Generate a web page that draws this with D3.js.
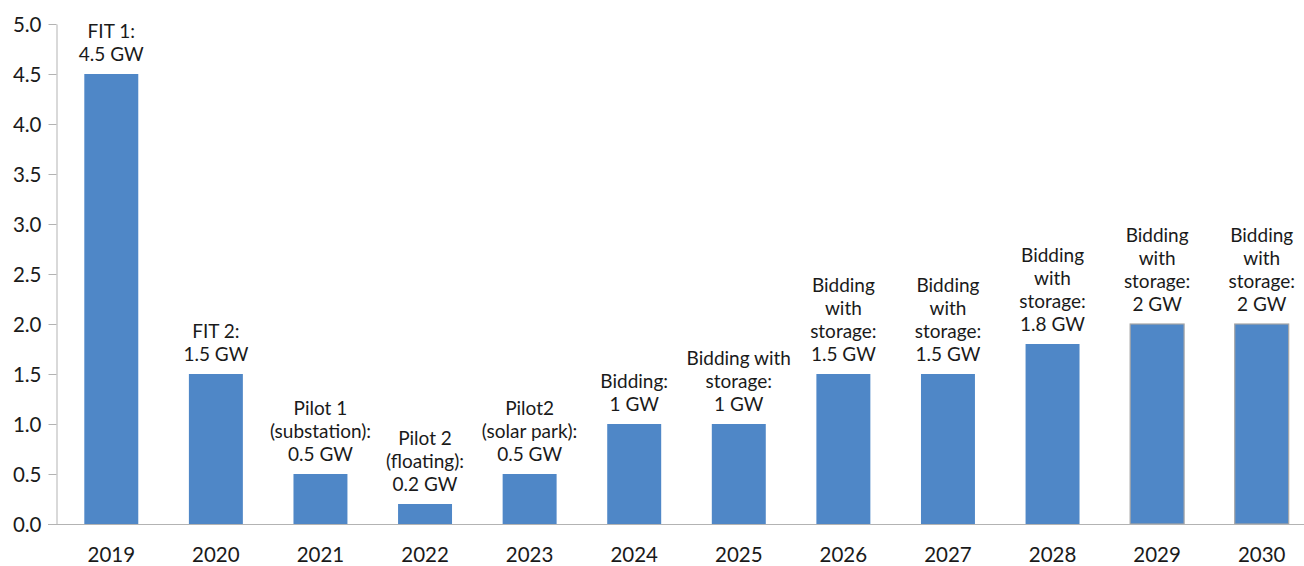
<!DOCTYPE html>
<html><head><meta charset="utf-8">
<script src="https://cdn.jsdelivr.net/npm/d3@7"></script>
<style>
html,body{margin:0;padding:0;background:#fff;}
svg text{font-family:Lato,"Noto Sans",sans-serif;fill:#1a1a1a;}
</style></head>
<body><svg id="c" width="1304" height="566"></svg>
<script>
const categories = ["2019","2020","2021","2022","2023","2024","2025","2026","2027","2028","2029","2030"];
const values = [4.5,1.5,0.5,0.2,0.5,1,1,1.5,1.5,1.8,2,2];
const labels = [
  ["FIT 1:","4.5 GW"],
  ["FIT 2:","1.5 GW"],
  ["Pilot 1","(substation):","0.5 GW"],
  ["Pilot 2","(floating):","0.2 GW"],
  ["Pilot2","(solar park):","0.5 GW"],
  ["Bidding:","1 GW"],
  ["Bidding with","storage:","1 GW"],
  ["Bidding","with","storage:","1.5 GW"],
  ["Bidding","with","storage:","1.5 GW"],
  ["Bidding","with","storage:","1.8 GW"],
  ["Bidding","with","storage:","2 GW"],
  ["Bidding","with","storage:","2 GW"]
];
const yTicks = [0,0.5,1,1.5,2,2.5,3,3.5,4,4.5,5];
const outlined = [false,false,false,false,false,false,false,false,false,false,true,true];

const svg = d3.select("#c");
const x = d3.scaleBand().domain(categories).range([59,1314]).paddingInner(0.484).paddingOuter(0.242);
const y = d3.scaleLinear().domain([0,5]).range([524,24]);

// y axis
const ya = svg.append("g").attr("transform","translate(56.5,0)")
  .call(d3.axisLeft(y).tickValues(yTicks).tickFormat(d3.format(".1f")).tickSize(8).tickSizeOuter(0));
ya.select(".domain").attr("stroke","#b3b3b3");
ya.selectAll(".tick line").attr("stroke","#b3b3b3");
ya.selectAll(".tick text").attr("x",-15).attr("dy","0.35em").style("font-size","20.5px");

// bars
svg.append("g").selectAll("rect").data(categories).join("rect")
  .attr("x",d=>x(d)).attr("width",x.bandwidth())
  .attr("y",(d,i)=>y(values[i])).attr("height",(d,i)=>y(0)-y(values[i]))
  .attr("fill","#4f87c7")
  .attr("stroke",(d,i)=>outlined[i]?"#a6a6a6":"none").attr("stroke-width",1.2);

// x axis
const xa = svg.append("g").attr("transform","translate(0,524.5)")
  .call(d3.axisBottom(x).tickSize(0).tickSizeOuter(0));
xa.select(".domain").attr("stroke","#b3b3b3").attr("d","M48,0H1304");
xa.selectAll(".tick text").attr("y",23).attr("dy","0.71em").style("font-size","20.5px");

// annotations
const lh = 23;
const ann = svg.append("g");
categories.forEach((c,i)=>{
  const lines = labels[i];
  const base = y(values[i]) - 13;
  const t = ann.append("text").attr("text-anchor","middle").style("font-size","19px")
    .attr("x", x(c)+x.bandwidth()/2);
  lines.forEach((l,j)=>{
    t.append("tspan").attr("x", x(c)+x.bandwidth()/2)
      .attr("y", base - (lines.length-1-j)*lh).text(l);
  });
});
</script></body></html>
